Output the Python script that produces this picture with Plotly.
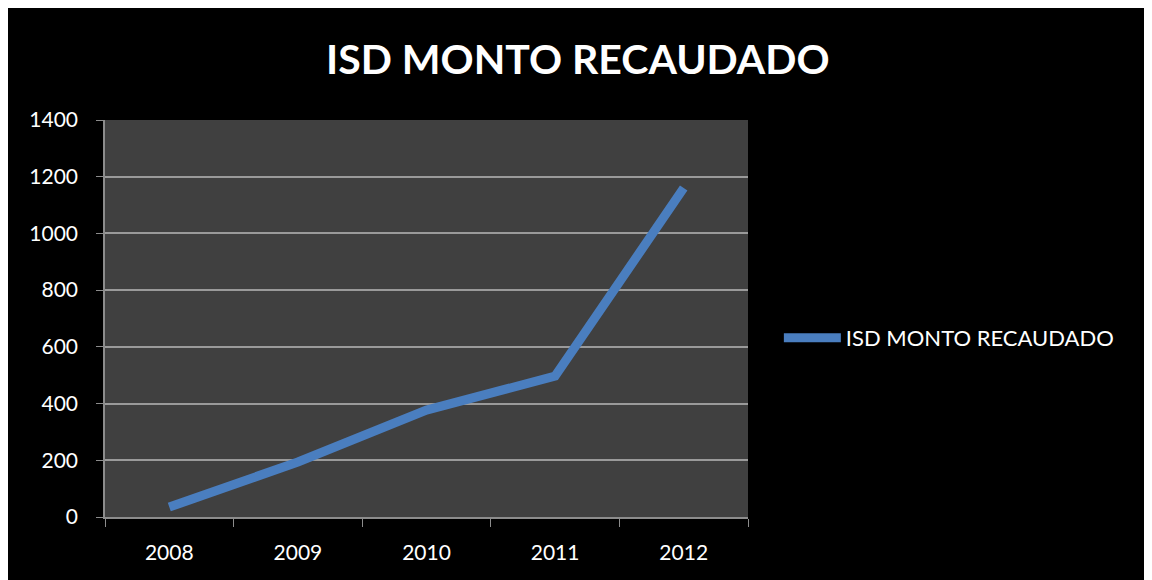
import plotly.graph_objects as go

years = ["2008", "2009", "2010", "2011", "2012"]
monto = [35, 194, 377, 497, 1160]
serie = "ISD MONTO RECAUDADO"

fig = go.Figure()
fig.add_trace(go.Scatter(x=years, y=monto, mode="lines", name=serie,
                         line=dict(color="#4A7EBF", width=9)))

fig.update_layout(
    width=1142, height=572,
    margin=dict(l=97, r=402, t=112, b=63),
    paper_bgcolor="black", plot_bgcolor="#404040",
    font=dict(family="Lato, Open Sans, sans-serif", color="white", size=21),
    title=dict(text="<b>ISD MONTO RECAUDADO</b>", x=0.499, xref="container",
               xanchor="center", y=0.909, yanchor="middle",
               font=dict(size=41, color="white")),
    showlegend=True,
    legend=dict(x=1.048, y=0.451, xanchor="left", yanchor="middle", itemwidth=57,
                bgcolor="rgba(0,0,0,0)", font=dict(size=22, color="white")),
)
fig.update_xaxes(type="category", range=[-0.5, 4.5], tickson="boundaries",
                 ticks="outside", ticklen=8, tickcolor="#8c8c8c",
                 showline=True, linecolor="#8c8c8c", linewidth=1.5,
                 showgrid=False, ticklabelstandoff=16)
fig.update_yaxes(range=[0, 1400], dtick=200, ticks="outside", ticklen=7,
                 tickcolor="#8c8c8c", showline=True, linecolor="#8c8c8c",
                 linewidth=1.5, gridcolor="#9a9a9a", gridwidth=1.5,
                 zeroline=False, ticklabelstandoff=14)

fig.write_html("out.html")
